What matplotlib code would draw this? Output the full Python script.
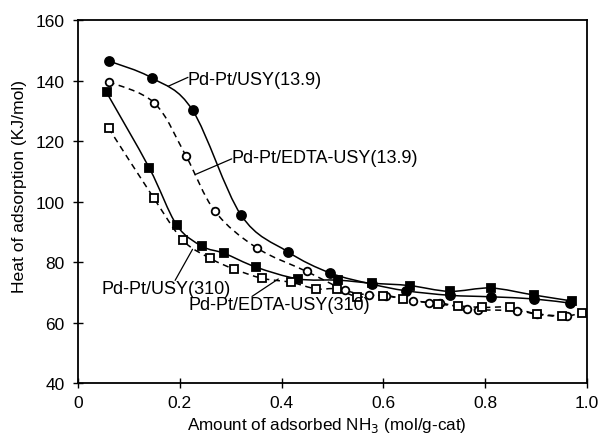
import numpy as np
import matplotlib
matplotlib.use('Agg')
import matplotlib.pyplot as plt
from matplotlib.path import Path
from matplotlib.patches import PathPatch

plt.rcParams['font.family'] = ['Liberation Sans', 'DejaVu Sans']

# Pd-Pt/USY(13.9) - filled circles
x_usy139 = [0.060, 0.146, 0.225, 0.320, 0.412, 0.495, 0.577, 0.644, 0.730, 0.811, 0.895, 0.967]
y_usy139 = [146.5, 140.8, 130.2, 95.6, 83.4, 76.4, 72.7, 70.5, 69.0, 68.5, 67.8, 66.4]

# Pd-Pt/EDTA-USY(13.9) - open circles
x_edta139 = [0.060, 0.150, 0.212, 0.269, 0.351, 0.449, 0.525, 0.572, 0.606, 0.659, 0.690, 0.712,
             0.764, 0.785, 0.862, 0.901, 0.960]
y_edta139 = [139.6, 132.6, 115.1, 96.8, 84.7, 76.9, 70.7, 69.1, 68.9, 67.2, 66.6, 66.5,
             64.5, 64.2, 63.9, 62.8, 62.0]

# Pd-Pt/USY(310) - filled squares
x_usy310 = [0.056, 0.140, 0.194, 0.244, 0.287, 0.350, 0.433, 0.511, 0.577, 0.652, 0.730, 0.811,
            0.895, 0.971]
y_usy310 = [136.1, 111.1, 92.2, 85.2, 82.9, 78.3, 74.4, 74.0, 73.0, 72.2, 70.3, 71.4, 69.1, 67.1]

# Pd-Pt/EDTA-USY(310) - open squares
x_edta310 = [0.060, 0.149, 0.206, 0.260, 0.306, 0.362, 0.418, 0.468, 0.508, 0.549, 0.599, 0.639,
             0.708, 0.747, 0.793, 0.849, 0.901, 0.951, 0.990]
y_edta310 = [124.3, 101.1, 87.2, 81.2, 77.7, 74.6, 73.3, 71.1, 71.1, 68.5, 68.9, 67.8,
             66.1, 65.5, 65.0, 65.0, 62.8, 62.0, 63.1]

x_ticks = [0, 0.2, 0.4, 0.6, 0.8, 1.0]
x_tick_labels = ['0', '0.2', '0.4', '0.6', '0.8', '1.0']
y_ticks = [40, 60, 80, 100, 120, 140, 160]


def smooth_path(xs, ys, t=1 / 6):
    # Catmull-Rom style bezier (like Excel smoothed lines)
    xs = np.asarray(xs, float)
    ys = np.asarray(ys, float)
    verts = [(xs[0], ys[0])]
    codes = [Path.MOVETO]
    n = len(xs)
    for i in range(n - 1):
        x0, y0 = (xs[i - 1], ys[i - 1]) if i > 0 else (xs[i], ys[i])
        x1, y1 = xs[i], ys[i]
        x2, y2 = xs[i + 1], ys[i + 1]
        x3, y3 = (xs[i + 2], ys[i + 2]) if i + 2 < n else (x2, y2)
        c1 = (x1 + (x2 - x0) * t, y1 + (y2 - y0) * t)
        c2 = (x2 - (x3 - x1) * t, y2 - (y3 - y1) * t)
        verts += [c1, c2, (x2, y2)]
        codes += [Path.CURVE4] * 3
    return Path(verts, codes)


fig = plt.figure(figsize=(6.01, 4.39), dpi=100)
ax = fig.add_axes([0.1298, 0.1253, 0.8469, 0.8267])

series = [
    (x_usy139, y_usy139, 'o', 'black', '-', 6.5),
    (x_edta139, y_edta139, 'o', 'white', (0, (4, 3)), 5.5),
    (x_usy310, y_usy310, 's', 'black', '-', 6.0),
    (x_edta310, y_edta310, 's', 'white', (0, (4, 3)), 5.5),
]
for xs, ys, mk, fc, ls, ms in series:
    ax.add_patch(PathPatch(smooth_path(xs, ys), facecolor='none', edgecolor='black',
                           linewidth=1.1, linestyle=ls, zorder=2))
    ax.plot(xs, ys, linestyle='none', marker=mk, markersize=ms, markerfacecolor=fc,
            markeredgecolor='black', markeredgewidth=1.3, zorder=3)

ax.set_xlim(0, 1.0)
ax.set_ylim(40, 160)
ax.set_xticks(x_ticks)
ax.set_xticklabels(x_tick_labels)
ax.set_yticks(y_ticks)
ax.tick_params(direction='inout', length=7, width=1, labelsize=12.5, colors='black')
ax.tick_params(axis='x', pad=5)
ax.tick_params(axis='y', pad=6)
for sp in ax.spines.values():
    sp.set_linewidth(1.3)

ax.set_xlabel('Amount of adsorbed NH$_3$ (mol/g-cat)', fontsize=12.3, va='center')
ax.set_ylabel('Heat of adsorption (KJ/mol)', fontsize=12.6, va='center')
ax.xaxis.set_label_coords(0.489, -0.114)
ax.yaxis.set_label_coords(-0.114, 0.545)


def leader(rel):
    return dict(arrowstyle='-', color='black', lw=0.9, shrinkA=0, shrinkB=0,
                patchA=None, relpos=rel)


ax.annotate('Pd-Pt/USY(13.9)', xy=(0.177, 138.1), xytext=(0.216, 140.5),
            fontsize=13, va='center', ha='left', arrowprops=leader((0, 0.6)))
ax.annotate('Pd-Pt/EDTA-USY(13.9)', xy=(0.230, 108.9), xytext=(0.302, 114.4),
            fontsize=13, va='center', ha='left', arrowprops=leader((0, 0.45)))
ax.annotate('Pd-Pt/USY(310)', xy=(0.225, 84.2), xytext=(0.173, 71.4),
            fontsize=13, va='center', ha='center', arrowprops=leader((0.57, 0.95)))
ax.annotate('Pd-Pt/EDTA-USY(310)', xy=(0.3935, 74.4), xytext=(0.217, 66.1),
            fontsize=13, va='center', ha='left', arrowprops=leader((0.35, 0.95)))

fig.savefig('out.png', dpi=100)
